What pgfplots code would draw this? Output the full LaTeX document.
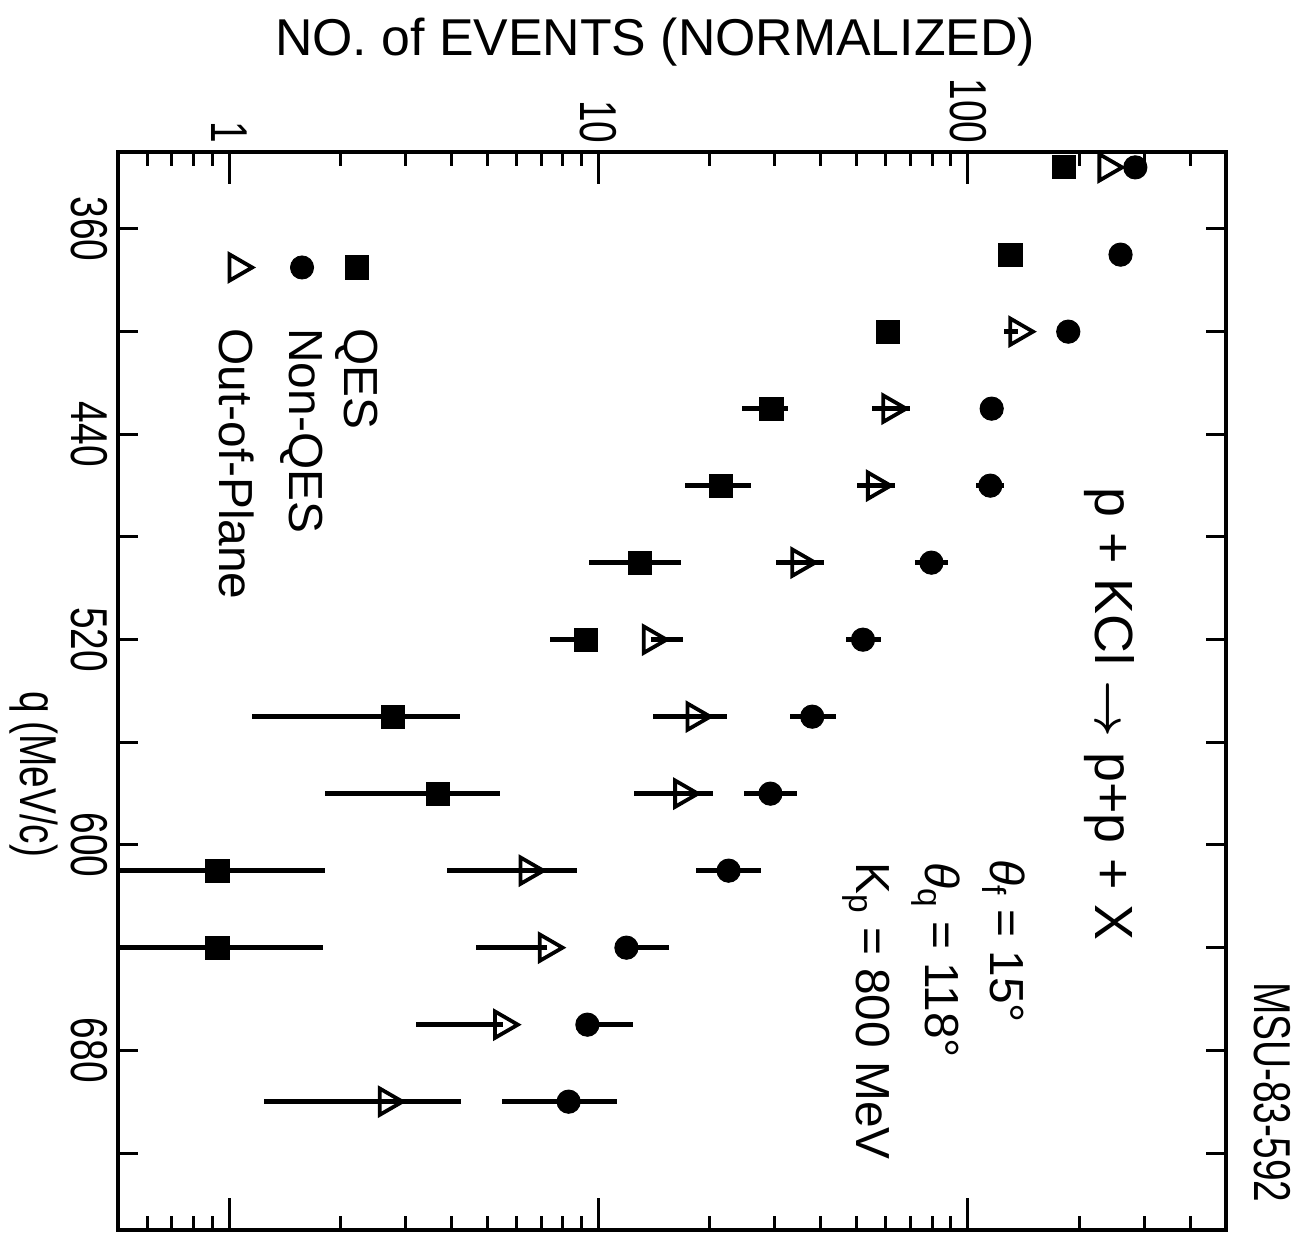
\documentclass[border=0pt]{standalone}
\usepackage{fontspec}
\setmainfont{Liberation Sans}
\newfontfamily\cond{Liberation Sans}[FakeStretch=0.75]
\usepackage{bm}
\usepackage{pgfplots}
\pgfplotsset{compat=1.18}
\begin{document}
\begin{tikzpicture}
\begin{axis}[
  at={(0,0)}, anchor=south west,
  scale only axis, width=554bp, height=539bp,
  xmode=log, xmin=0.5, xmax=500,
  ymin=330, ymax=750, y dir=reverse,
  axis line style={line width=2bp},
  tick style={line width=1.5bp, black},
  clip mode=individual,
  /pgf/number format/assume math mode=true,
  xtick={1,10,100}, xticklabels={1,10,100},
  minor xtick={0.6,0.7,0.8,0.9,2,3,4,5,6,7,8,9,20,30,40,50,60,70,80,90,200,300,400},
  xticklabel pos=upper,
  xticklabel style={rotate=-90, anchor=east, inner sep=4bp, font=\cond\fontsize{26}{26}\selectfont},
  ytick=\empty,
  major tick length=16bp, minor tick length=7bp,
]
% QES
\addplot[only marks, line width=2.2bp, mark=square*, mark size=5.8bp, black,
  mark options={line width=0.5bp},
  error bars/.cd, x dir=both, x explicit, error mark=none,
  error bar style={line width=2.2bp}]
coordinates {
 (182,336) += (0,0) -= (0,0)
 (130.5,370) += (0,0) -= (0,0)
 (60.8,400) += (0,0) -= (0,0)
 (29.4,430) += (3.1,0) -= (5.0,0)
 (21.5,460) += (4.3,0) -= (4.4,0)
 (12.95,490) += (3.8,0) -= (3.5,0)
 (9.27,520) += (0.3,0) -= (1.9,0)
 (2.78,550) += (1.44,0) -= (1.63,0)
 (3.68,580) += (1.73,0) -= (1.86,0)
 (0.93,610) += (0.89,0) -= (0.6,0)
 (0.93,640) += (0.87,0) -= (0.6,0)
};
% Non-QES
\addplot[only marks, line width=2.2bp, mark=*, mark size=5.8bp, black,
  mark options={line width=0.5bp},
  error bars/.cd, x dir=both, x explicit, error mark=none,
  error bar style={line width=2.2bp}]
coordinates {
 (284,336) += (0,0) -= (0,0)
 (259,370) += (0,0) -= (0,0)
 (187,400) += (0,0) -= (0,0)
 (116,430) += (0,0) -= (0,0)
 (115,460) += (10.5,0) -= (9.6,0)
 (79.7,490) += (8.4,0) -= (7.6,0)
 (52,520) += (6.1,0) -= (5.2,0)
 (37.9,550) += (6.1,0) -= (4.9,0)
 (29.2,580) += (5.3,0) -= (4.4,0)
 (22.5,610) += (4.95,0) -= (4.1,0)
 (11.9,640) += (3.65,0) -= (0,0)
 (9.33,670) += (3.09,0) -= (0,0)
 (8.3,700) += (2.95,0) -= (2.83,0)
};
% Out-of-Plane
\addplot[only marks, line width=2.2bp, mark=triangle, mark size=7.6bp, black,
  mark options={rotate=-90, fill=white, line width=1.9bp},
  error bars/.cd, x dir=both, x explicit, error mark=none,
  error bar style={line width=2.2bp}]
coordinates {
 (238,336) += (0,0) -= (0,0)
 (136.5,400) += (0,0) -= (11,0)
 (61.9,430) += (7.8,0) -= (6.9,0)
 (56.2,460) += (7.1,0) -= (6.2,0)
 (35.1,490) += (5.65,0) -= (4.87,0)
 (13.9,520) += (3.06,0) -= (0,0)
 (18.25,550) += (4.0,0) -= (4.2,0)
 (16.9,580) += (3.5,0) -= (4.4,0)
 (6.45,610) += (2.30,0) -= (2.57,0)
 (7.27,640) += (0,0) -= (2.62,0)
 (5.50,670) += (0,0) -= (2.30,0)
 (2.68,700) += (1.57,0) -= (1.44,0)
};
% legend markers
\addplot[only marks, mark=square*, mark size=5.8bp, black, forget plot] coordinates {(2.22,375)};
\addplot[only marks, mark=*, mark size=5.8bp, black, forget plot] coordinates {(1.575,375)};
\addplot[only marks, mark=triangle, mark size=7.6bp, black, mark options={rotate=-90, fill=white, line width=1.9bp}, forget plot] coordinates {(1.05,375)};
\node[rotate=-90, anchor=west, font=\fontsize{24}{24}\selectfont] at (axis cs:2.22,396) {QES};
\node[rotate=-90, anchor=west, font=\fontsize{24}{24}\selectfont] at (axis cs:1.575,396) {Non-QES};
\node[rotate=-90, anchor=west, font=\fontsize{24}{24}\selectfont] at (axis cs:1.05,396) {Out-of-Plane};
% annotations
\node[rotate=-90, anchor=west, font=\fontsize{27}{27}\selectfont] at (axis cs:242,458) {p + KCl $\bm{\rightarrow}$ p+p + X};
\node[rotate=-90, anchor=west, font=\fontsize{24}{24}\selectfont] at (axis cs:125,603) {{\itshape θ}\textsubscript{f} = 15°};
\node[rotate=-90, anchor=west, font=\fontsize{24}{24}\selectfont] at (axis cs:82,604) {{\itshape θ}\textsubscript{q} = 118°};
\node[rotate=-90, anchor=west, font=\fontsize{24}{24}\selectfont] at (axis cs:53,604) {K\textsubscript{p} = 800 MeV};
\end{axis}
\begin{axis}[
  at={(0,0)}, anchor=south west,
  scale only axis, width=554bp, height=539bp,
  xmin=0, xmax=1,
  ymin=330, ymax=750, y dir=reverse,
  axis line style={line width=2bp},
  tick style={line width=1.5bp, black},
  /pgf/number format/assume math mode=true,
  xtick=\empty,
  ytick={360,400,440,480,520,560,600,640,680,720},
  yticklabels={360,,440,,520,,600,,680,},
  major tick length=10bp,
  yticklabel style={rotate=-90, anchor=north, inner sep=5bp, font=\cond\fontsize{26}{26}\selectfont},
]
\end{axis}
\begin{scope}[x=0.5bp, y=-0.5bp, shift={(-118,-1230)}]
\node[font=\fontsize{26}{26}\selectfont] at (655,42) {NO. of EVENTS (NORMALIZED)};
\node[rotate=-90, anchor=west, font=\cond\fontsize{26}{26}\selectfont] at (34,684) {q\,(MeV/c)};
\node[rotate=-90, anchor=west, font=\cond\fontsize{26}{26}\selectfont] at (1272,975) {MSU-83-592};
\pgfresetboundingbox
\path[use as bounding box] (0,0) rectangle (1299,1239);
\end{scope}
\end{tikzpicture}
\end{document}
